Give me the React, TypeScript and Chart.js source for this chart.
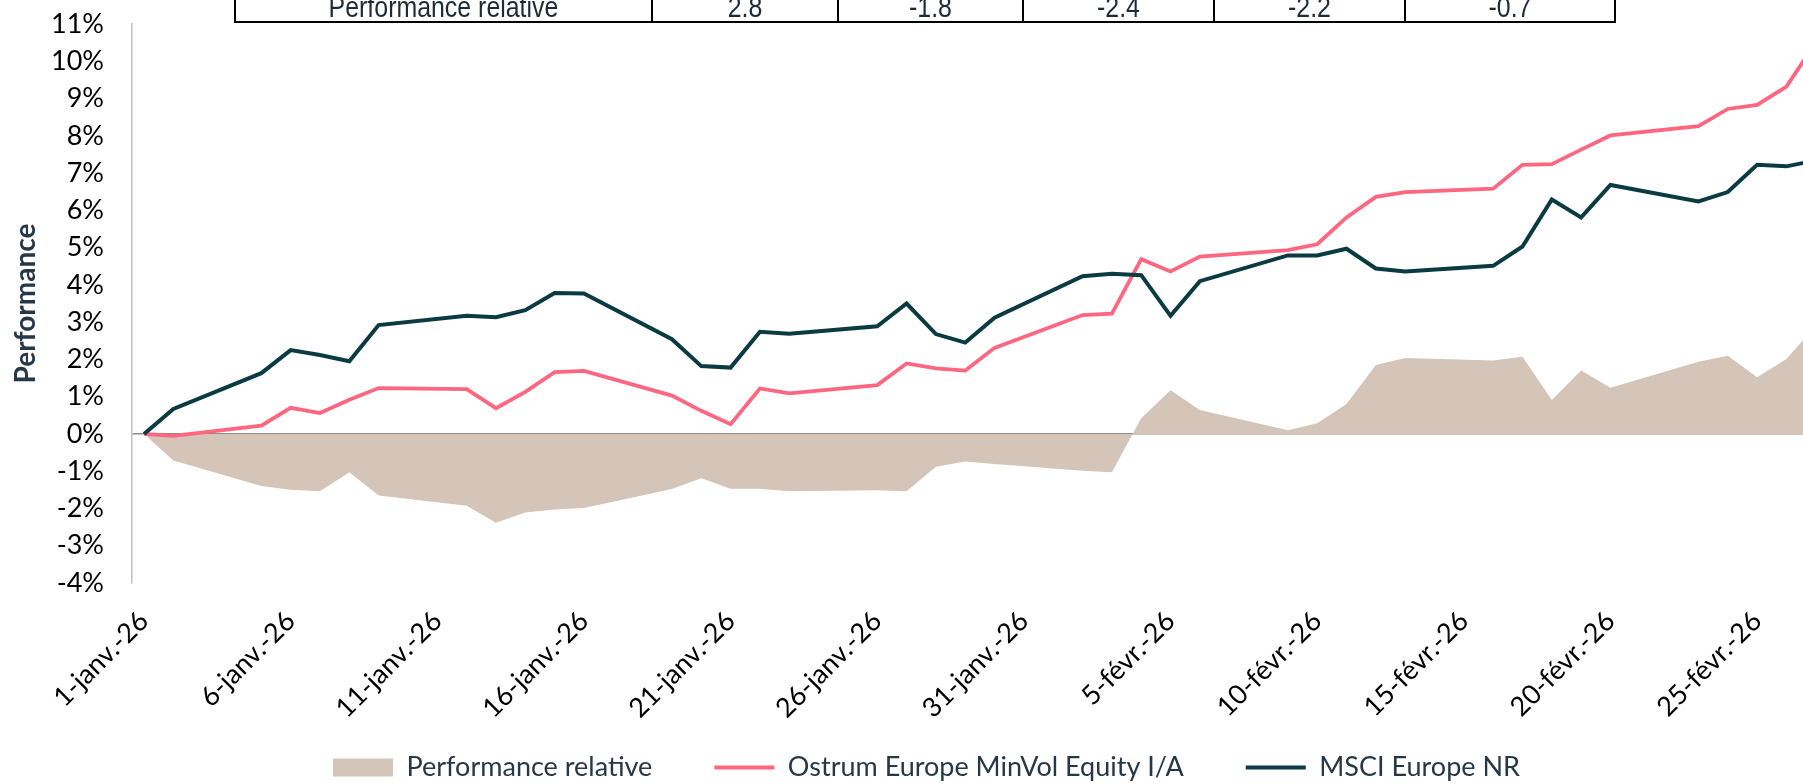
import React, { useEffect, useRef } from 'react';
import { Chart, registerables } from 'chart.js';

Chart.register(...registerables);

// ---- data ----
const businessDates = [
  '2026-01-01', '2026-01-02', '2026-01-05', '2026-01-06', '2026-01-07', '2026-01-08', '2026-01-09',
  '2026-01-12', '2026-01-13', '2026-01-14', '2026-01-15', '2026-01-16',
  '2026-01-19', '2026-01-20', '2026-01-21', '2026-01-22', '2026-01-23',
  '2026-01-26', '2026-01-27', '2026-01-28', '2026-01-29', '2026-01-30',
  '2026-02-02', '2026-02-03', '2026-02-04', '2026-02-05', '2026-02-06',
  '2026-02-09', '2026-02-10', '2026-02-11', '2026-02-12', '2026-02-13',
  '2026-02-16', '2026-02-17', '2026-02-18', '2026-02-19', '2026-02-20',
  '2026-02-23', '2026-02-24', '2026-02-25', '2026-02-26', '2026-02-27',
];

const ostrum = [
  0, -0.05, 0.22, 0.70, 0.56, 0.92, 1.23,
  1.20, 0.69, 1.13, 1.66, 1.69,
  1.03, 0.62, 0.26, 1.22, 1.09,
  1.31, 1.89, 1.76, 1.70, 2.31,
  3.19, 3.23, 4.69, 4.36, 4.76,
  4.93, 5.09, 5.81, 6.36, 6.49,
  6.58, 7.22, 7.24, 7.63, 8.01,
  8.26, 8.72, 8.83, 9.32, 10.5,
];

const msci = [
  0, 0.67, 1.63, 2.25, 2.12, 1.95, 2.92,
  3.17, 3.13, 3.32, 3.78, 3.77,
  2.54, 1.82, 1.78, 2.74, 2.69,
  2.89, 3.50, 2.68, 2.45, 3.12,
  4.23, 4.30, 4.26, 3.17, 4.10,
  4.79, 4.79, 4.97, 4.44, 4.36,
  4.51, 5.03, 6.29, 5.81, 6.68,
  6.24, 6.49, 7.22, 7.18, 7.34,
];

const relative = [
  0, -0.71, -1.40, -1.50, -1.54, -1.03, -1.65,
  -1.93, -2.38, -2.11, -2.03, -1.99,
  -1.48, -1.19, -1.47, -1.47, -1.54,
  -1.51, -1.54, -0.88, -0.74, -0.81,
  -0.99, -1.03, 0.42, 1.17, 0.64,
  0.10, 0.29, 0.80, 1.85, 2.04,
  1.97, 2.07, 0.91, 1.70, 1.24,
  1.94, 2.10, 1.52, 2.01, 2.9,
];

const tickDates = [
  '2026-01-01', '2026-01-06', '2026-01-11', '2026-01-16', '2026-01-21', '2026-01-26',
  '2026-01-31', '2026-02-05', '2026-02-10', '2026-02-15', '2026-02-20', '2026-02-25',
];
const tickLabels = [
  '1-janv.-26', '6-janv.-26', '11-janv.-26', '16-janv.-26', '21-janv.-26', '26-janv.-26',
  '31-janv.-26', '5-févr.-26', '10-févr.-26', '15-févr.-26', '20-févr.-26', '25-févr.-26',
];

const seriesNames = ['Performance relative', 'Ostrum Europe MinVol Equity I/A', 'MSCI Europe NR'];
const tableRowLabel = 'Performance relative';
const tableRowValues = ['2.8', '-1.8', '-2.4', '-2.2', '-0.7'];

const yMin = -4;
const yMax = 11;
const xMin = -0.41;
const xMax = 58.27;

// ---- styles ----
const AREA = '#d5c4b8';
const PINK = '#ff6680';
const DARK = '#0b3b42';
const FONT = 'Lato, "Open Sans", sans-serif';
const TEXT = '#263848';

const START = Date.UTC(2026, 0, 1);
const dayIndex = (d: string) => (Date.parse(d + 'T00:00:00Z') - START) / 86400000;

const CANVAS_W = 1868;
const CANVAS_H = 791;

const tableCols = [
  { left: 235, right: 652 },
  { left: 652, right: 838 },
  { left: 838, right: 1023 },
  { left: 1023, right: 1214 },
  { left: 1214, right: 1405 },
  { left: 1405, right: 1615 },
];

const unclipX = {
  id: 'unclipX',
  afterLayout(chart: any) {
    if (chart.scales && chart.scales.x) chart.scales.x.bottom = chart.height;
  },
};

export default function App() {
  const ref = useRef<HTMLCanvasElement | null>(null);

  useEffect(() => {
    if (!ref.current) return;
    const toPts = (vals: number[]) => businessDates.map((d, i) => ({ x: dayIndex(d), y: vals[i] }));
    const chart = new Chart(ref.current, {
      type: 'line',
      plugins: [unclipX],
      data: {
        datasets: [
          {
            label: seriesNames[0],
            data: toPts(relative),
            fill: 'origin',
            backgroundColor: AREA,
            borderColor: AREA,
            borderWidth: 0,
            pointRadius: 0,
            tension: 0,
            order: 3,
          },
          {
            label: seriesNames[1],
            data: toPts(ostrum),
            fill: false,
            borderColor: PINK,
            borderWidth: 3.8,
            pointRadius: 0,
            tension: 0,
            order: 2,
          },
          {
            label: seriesNames[2],
            data: toPts(msci),
            fill: false,
            borderColor: DARK,
            borderWidth: 4,
            pointRadius: 0,
            tension: 0,
            order: 1,
          },
        ] as any,
      },
      options: {
        animation: false,
        responsive: false,
        maintainAspectRatio: false,
        layout: { padding: { top: 24, right: 15, left: 0, bottom: 0 } },
        plugins: {
          tooltip: { enabled: false },
          legend: {
            position: 'bottom',
            labels: {
              usePointStyle: true,
              pointStyleWidth: 60,
              boxHeight: 18,
              padding: 62,
              color: TEXT,
              font: { family: FONT, size: 27 },
              generateLabels: (chart: any) =>
                chart.data.datasets.map((ds: any, i: number) => ({
                  text: ds.label,
                  datasetIndex: i,
                  hidden: false,
                  fillStyle: i === 0 ? AREA : 'rgba(0,0,0,0)',
                  strokeStyle: i === 0 ? AREA : ds.borderColor,
                  lineWidth: i === 0 ? 0 : 4,
                  pointStyle: i === 0 ? 'rect' : 'line',
                  fontColor: TEXT,
                })),
            },
          },
        },
        scales: {
          x: {
            type: 'linear',
            min: xMin,
            max: xMax,
            grid: { display: false, drawTicks: false },
            border: { display: false },
            afterBuildTicks: (s: any) => {
              s.ticks = tickDates.map((d) => ({ value: dayIndex(d) }));
            },
            afterFit: (s: any) => {
              s.height = 109;
            },
            ticks: {
              autoSkip: false,
              minRotation: 45,
              maxRotation: 45,
              padding: 22,
              color: '#000',
              font: { family: FONT, size: 27 },
              callback: (_v: any, i: number) => tickLabels[i],
            },
          },
          y: {
            min: yMin,
            max: yMax,
            afterFit: (s: any) => {
              s.width = 132;
            },
            ticks: {
              stepSize: 1,
              padding: 2,
              color: '#000',
              font: { family: FONT, size: 27 },
              callback: (v: any) => `${v}%`,
            },
            grid: {
              drawTicks: true,
              tickLength: 26,
              tickColor: 'rgba(0,0,0,0)',
              color: (ctx: any) => (ctx.tick && ctx.tick.value === 0 ? '#8c8c8c' : 'rgba(0,0,0,0)'),
              lineWidth: 1.5,
            },
            border: { display: true, color: '#bfbfbf', width: 1.5 },
            title: {
              display: true,
              text: 'Performance',
              color: TEXT,
              font: { family: FONT, size: 28, weight: 'bold' },
              padding: { top: 9, bottom: 0 },
            },
          },
        },
      } as any,
    });
    return () => chart.destroy();
  }, []);

  return (
    <div
      style={{
        position: 'fixed',
        left: 0,
        top: 0,
        width: 1803,
        height: 784,
        overflow: 'hidden',
        background: '#fff',
      }}
    >
      <canvas
        ref={ref}
        width={CANVAS_W}
        height={CANVAS_H}
        style={{ position: 'absolute', left: 0, top: 0, width: CANVAS_W, height: CANVAS_H }}
      />
      {tableCols.map((c, i) => (
        <div
          key={i}
          style={{
            position: 'absolute',
            left: c.left - 1,
            top: -30,
            width: c.right - c.left + 2,
            height: 53,
            boxSizing: 'border-box',
            border: '2px solid #000',
            borderTop: 'none',
            fontFamily: '"Liberation Sans", Arial, sans-serif',
            fontSize: 30,
            lineHeight: '30px',
            color: '#1e2b37',
            textAlign: 'center',
          }}
        >
          <span
            style={{
              position: 'absolute',
              left: 0,
              right: 0,
              bottom: -1,
              transform: 'scaleX(0.83)',
              whiteSpace: 'nowrap',
            }}
          >
            {i === 0 ? tableRowLabel : tableRowValues[i - 1]}
          </span>
        </div>
      ))}
    </div>
  );
}
